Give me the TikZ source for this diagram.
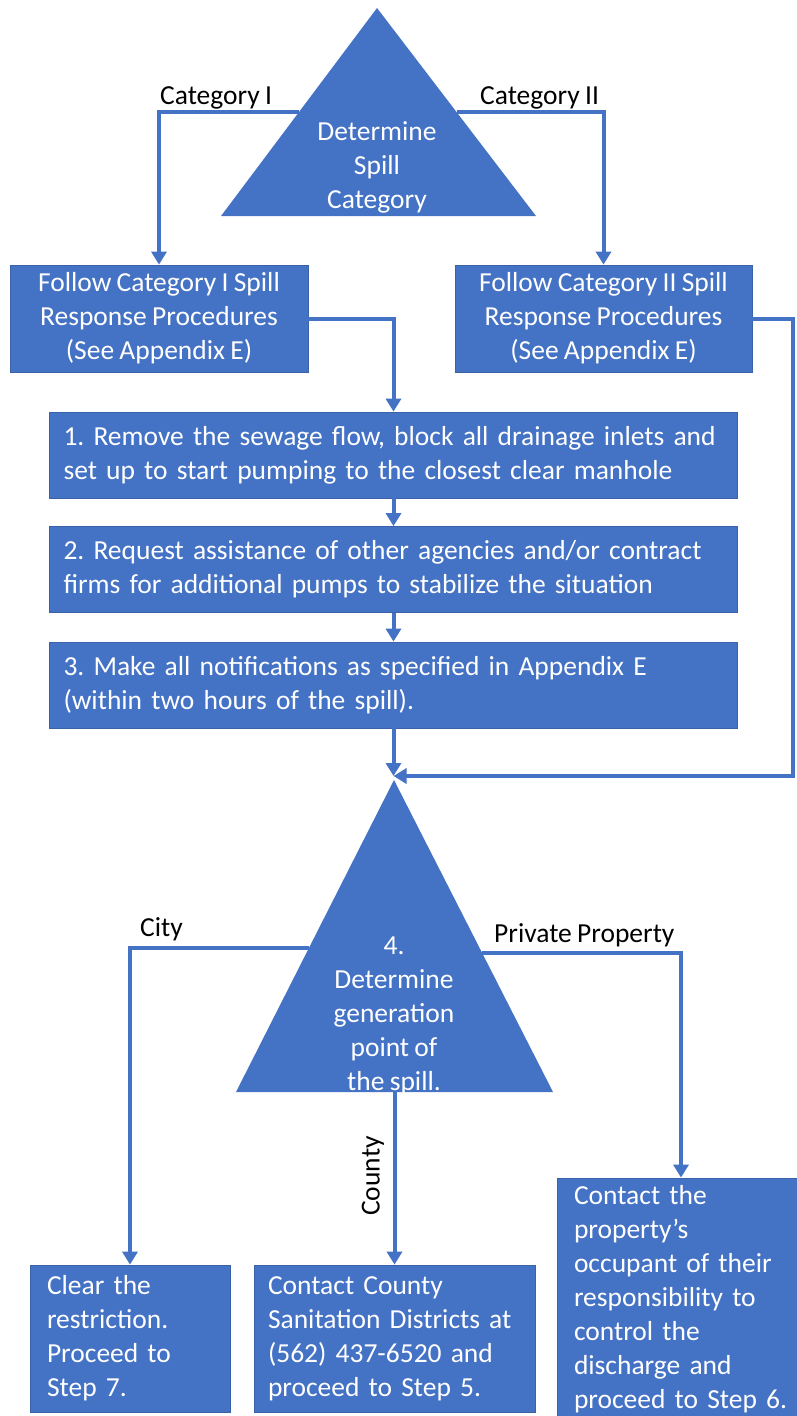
\documentclass[tikz,border=0pt]{standalone}
\usepackage{fontspec}
\setmainfont{Carlito}[WordSpace=0.85]
\usetikzlibrary{arrows.meta,calc}
\definecolor{fillB}{HTML}{4472C4}
\definecolor{edgeB}{HTML}{3A62A8}
\begin{document}
\frenchspacing
\begin{tikzpicture}[x=1pt,y=-1pt,
  box/.style={fill=fillB, draw=edgeB, line width=0.8pt, text=white,
    font=\fontsize{27.5}{34}\selectfont, inner ysep=0pt},
  tritext/.style={text=white, font=\fontsize{27.5}{34}\selectfont, align=center, inner sep=0pt},
  conn/.style={draw=fillB, line width=4pt, -{Triangle[width=15pt,length=13pt]}},
  lbl/.style={text=black, font=\fontsize{27.5}{32}\selectfont, inner sep=0pt}]
\useasboundingbox (0,0) rectangle (796,1416);

% ---- triangle 1
\coordinate (t1a) at (377,8);
\coordinate (t1l) at (221,216);
\coordinate (t1r) at (536,216);
\fill[fillB] (t1a) -- (t1l) -- (t1r) -- cycle;
\node[tritext] (t1) at (377,167) {Determine\\Spill\\Category};
\coordinate (t1L) at ($(t1a)!0.5!(t1l)$);
\coordinate (t1R) at ($(t1a)!0.5!(t1r)$);

% ---- category boxes
\node[box, minimum width=298pt, minimum height=107pt, align=center, inner xsep=0pt]
  (c1) at (159,318.5) {Follow Category I Spill\\Response Procedures\\(See Appendix E)};
\node[box, minimum width=297pt, minimum height=107pt, align=center, inner xsep=0pt]
  (c2) at (603.5,318.5) {Follow Category II Spill\\Response Procedures\\(See Appendix E)};

% ---- step boxes
\node[box, text width=660pt, inner xsep=14pt, minimum height=86pt, align=left]
  (s1) at (393.5,455) {1. Remove the sewage flow, block all drainage inlets and\\set up to start pumping to the closest clear manhole};
\node[box, text width=660pt, inner xsep=14pt, minimum height=86pt, align=left]
  (s2) at (393.5,569.5) {2. Request assistance of other agencies and/or contract\\firms for additional pumps to stabilize the situation};
\node[box, text width=660pt, inner xsep=14pt, minimum height=86pt, align=left]
  (s3) at (393.5,685) {3. Make all notifications as specified in Appendix E\\(within two hours of the spill).};

% ---- triangle 2
\coordinate (t2a) at (394,780);
\coordinate (t2l) at (236,1092);
\coordinate (t2r) at (553,1092);
\fill[fillB] (t2a) -- (t2l) -- (t2r) -- cycle;
\node[tritext] (t2) at (394,1016) {4.\\Determine\\generation\\point of\\the spill.};
\coordinate (t2L) at ($(t2a)!0.5385!(t2l)$);
\coordinate (t2R) at ($(t2a)!0.5545!(t2r)$);
\coordinate (t2b) at (394.5,1092);
\coordinate (merge) at (393.5,776);
\coordinate (rx) at (793,318.5);
\coordinate (ppx) at (681,0);

% ---- bottom boxes
\node[box, text width=166pt, inner xsep=17pt, minimum height=147pt, align=left]
  (city) at (130,1338.5) {Clear the\\restriction.\\Proceed to\\Step 7.};
\node[box, text width=253pt, inner xsep=14pt, minimum height=147pt, align=left]
  (county) at (394.5,1338.5) {Contact County\\Sanitation Districts at\\(562) 437-6520 and\\proceed to Step 5.};
\node[box, text width=236pt, inner xsep=17pt, minimum height=242pt, align=left]
  (pp) at (692,1299) {Contact the\\property’s\\occupant of their\\responsibility to\\control the\\discharge and\\proceed to Step 6.};

% ---- connectors
\draw[conn] (t1L) -| (c1.north);
\draw[conn] (t1R) -| (c2.north);
\draw[conn] (c1.east) -| (s1.north);
\draw[conn] (s1.south) -- (s2.north);
\draw[conn] (s2.south) -- (s3.north);
\draw[conn] (s3.south) -- (merge);
\draw[conn] (c2.east) -- (rx) |- (merge);
\draw[conn] (t2L) -| (city.north);
\draw[conn] (t2b) -- (county.north);
\draw[conn] (t2R) -| (pp.north -| ppx);

% ---- labels
\node[lbl, anchor=base west] (lc1) at (160,104) {Category I};
\node[lbl, anchor=base west] (lc2) at (480,104) {Category II};
\node[lbl, anchor=base west] (lcity) at (140,936) {City};
\node[lbl, anchor=base west] (lpp) at (494,942) {Private Property};
\node[lbl, rotate=90] (lcounty) at (373,1176) {County};
\end{tikzpicture}
\end{document}
